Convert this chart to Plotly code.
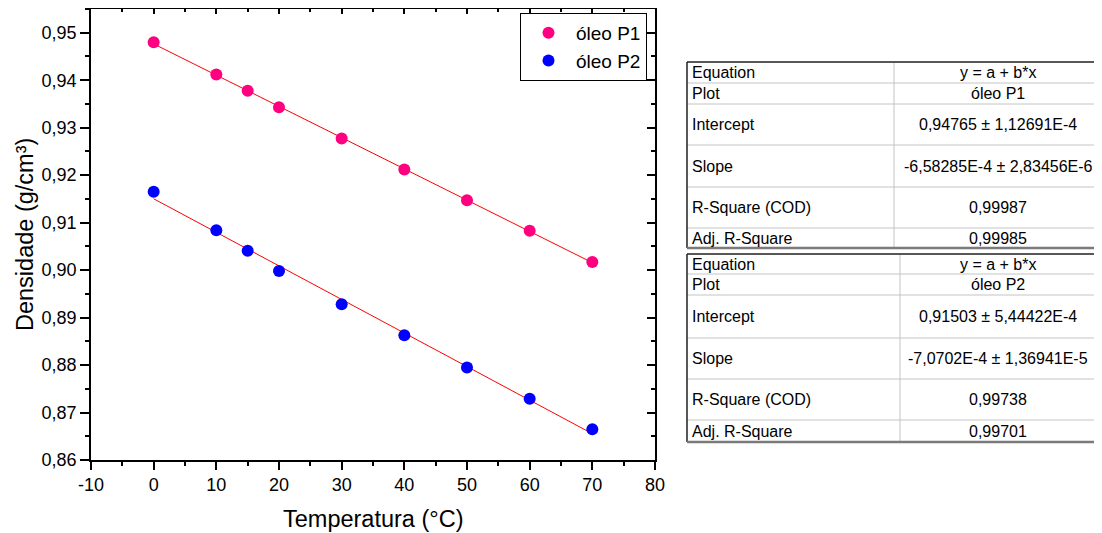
import plotly.graph_objects as go

# ---------------- data ----------------
temp_p1 = [0, 10, 15, 20, 30, 40, 50, 60, 70]
dens_p1 = [0.9480, 0.9412, 0.9378, 0.9343, 0.9277, 0.9212, 0.9147, 0.9083, 0.9017]
temp_p2 = [0, 10, 15, 20, 30, 40, 50, 60, 70]
dens_p2 = [0.9165, 0.9084, 0.9041, 0.8998, 0.8928, 0.8863, 0.8795, 0.8729, 0.8665]

p1_intercept = 0.94765
p1_slope = -6.58285e-4
p2_intercept = 0.91503
p2_slope = -7.0702e-4
fit_x = [0, 70]

x_tickvals = [-10, 0, 10, 20, 30, 40, 50, 60, 70, 80]
x_ticktext = ["-10", "0", "10", "20", "30", "40", "50", "60", "70", "80"]

table_labels = ["Equation", "Plot", "Intercept", "Slope", "R-Square (COD)", "Adj. R-Square"]
table_p1 = ["y = a + b*x", "óleo P1", "0,94765 ± 1,12691E-4", "-6,58285E-4 ± 2,83456E-6", "0,99987", "0,99985"]
table_p2 = ["y = a + b*x", "óleo P2", "0,91503 ± 5,44422E-4", "-7,0702E-4 ± 1,36941E-5", "0,99738", "0,99701"]

# ---------------- layout helpers ----------------
OFF = 8  # default page body margin
W, H = 1102 - OFF, 533 - OFF
FONT = "Liberation Sans, Arial, sans-serif"


def PX(px):
    return (px - OFF) / W


def PY(py):
    return 1 - (py - OFF) / H


PINK = "#FF0080"
BLUE = "#0000FF"

fig = go.Figure()

fit_p1 = [p1_intercept + p1_slope * x for x in fit_x]
fit_p2 = [p2_intercept + p2_slope * x for x in fit_x]

fig.add_trace(go.Scatter(x=fit_x, y=fit_p1, mode="lines", line=dict(color="#FF0000", width=1),
                         showlegend=False, hoverinfo="skip"))
fig.add_trace(go.Scatter(x=fit_x, y=fit_p2, mode="lines", line=dict(color="#FF0000", width=1),
                         showlegend=False, hoverinfo="skip"))
fig.add_trace(go.Scatter(x=temp_p1, y=dens_p1, mode="markers", name="óleo P1",
                         marker=dict(color=PINK, size=12, line=dict(width=0))))
fig.add_trace(go.Scatter(x=temp_p2, y=dens_p2, mode="markers", name="óleo P2",
                         marker=dict(color=BLUE, size=12, line=dict(width=0))))
# dummy trace for mirror axes
fig.add_trace(go.Scatter(x=[None], y=[None], xaxis="x2", yaxis="y2", showlegend=False, hoverinfo="skip"))

xr = [-10, 80]
yr = [0.86, 0.955]
xdom = [PX(91), PX(655)]
ydom = [PY(460), PY(9)]

axis_common = dict(showgrid=False, zeroline=False, showline=True, linecolor="black", linewidth=1.5,
                   tickcolor="black", tickwidth=1.5, automargin=False)

fig.update_layout(
    width=W, height=H,
    margin=dict(l=0, r=0, t=0, b=0, pad=0, autoexpand=False),
    paper_bgcolor="white", plot_bgcolor="white",
    separators=",.",
    font=dict(family=FONT, color="black"),
    xaxis=dict(domain=xdom, range=xr, anchor="y", ticks="outside", ticklen=8,
               tickvals=x_tickvals, ticktext=x_ticktext, tickfont=dict(size=18),
               minor=dict(ticks="outside", ticklen=4, dtick=5, tickcolor="black", tickwidth=1.5),
               **axis_common),
    yaxis=dict(domain=ydom, range=yr, anchor="x", ticks="outside", ticklen=9,
               tick0=0.86, dtick=0.01, tickformat=".2f", tickfont=dict(size=18),
               minor=dict(ticks="outside", ticklen=4, dtick=0.005, tickcolor="black", tickwidth=1.5),
               **axis_common),
    xaxis2=dict(domain=xdom, range=xr, anchor="y2", overlaying="x", side="top", ticks="inside",
                ticklen=5, dtick=10, tick0=0, showticklabels=False,
                minor=dict(ticks="inside", ticklen=3, dtick=5, tickcolor="black", tickwidth=1.5),
                **axis_common),
    yaxis2=dict(domain=ydom, range=yr, anchor="x2", overlaying="y", side="right", ticks="inside",
                ticklen=8, dtick=0.01, tick0=0.86, showticklabels=False,
                minor=dict(ticks="inside", ticklen=4, dtick=0.005, tickcolor="black", tickwidth=1.5),
                **axis_common),
    legend=dict(x=PX(647), y=PY(13), xanchor="right", yanchor="top",
                bgcolor="white", bordercolor="black", borderwidth=1,
                font=dict(size=19, family=FONT), tracegroupgap=0, itemwidth=45),
    showlegend=True,
)

annotations = [
    dict(text="Temperatura (°C)", x=PX(373), y=PY(519), xref="paper", yref="paper",
         showarrow=False, font=dict(size=23.5, family=FONT), xanchor="center", yanchor="middle"),
    dict(text="Densidade (g/cm³)", x=PX(25), y=PY(235), xref="paper", yref="paper",
         showarrow=False, font=dict(size=23.5, family=FONT), textangle=-90,
         xanchor="center", yanchor="middle"),
]
shapes = []


def add_table(rows_y, col_x, labels, values):
    left, right = 687, 1102
    for y in rows_y[1:-1]:
        shapes.append(dict(type="line", xref="paper", yref="paper", x0=PX(left), x1=PX(right),
                           y0=PY(y), y1=PY(y), line=dict(color="#c4c4c4", width=1)))
    shapes.append(dict(type="line", xref="paper", yref="paper", x0=PX(col_x), x1=PX(col_x),
                       y0=PY(rows_y[0]), y1=PY(rows_y[-1]), line=dict(color="#c4c4c4", width=1)))
    shapes.append(dict(type="line", xref="paper", yref="paper", x0=PX(left), x1=PX(right),
                       y0=PY(rows_y[0]), y1=PY(rows_y[0]), line=dict(color="#202020", width=1.5)))
    shapes.append(dict(type="line", xref="paper", yref="paper", x0=PX(left), x1=PX(left),
                       y0=PY(rows_y[0]), y1=PY(rows_y[-1]), line=dict(color="#202020", width=1.5)))
    shapes.append(dict(type="line", xref="paper", yref="paper", x0=PX(left), x1=PX(right),
                       y0=PY(rows_y[-1]), y1=PY(rows_y[-1]), line=dict(color="#7a7a7a", width=2.5)))
    for i, (lab, val) in enumerate(zip(labels, values)):
        yc = (rows_y[i] + rows_y[i + 1]) / 2
        annotations.append(dict(text=lab, x=PX(690), y=PY(yc), xref="paper", yref="paper",
                                showarrow=False, xanchor="left", yanchor="middle",
                                font=dict(size=16, family=FONT)))
        annotations.append(dict(text=val, x=PX(998), y=PY(yc), xref="paper", yref="paper",
                                showarrow=False, xanchor="center", yanchor="middle",
                                font=dict(size=16, family=FONT)))


add_table([62, 83, 104, 145, 187, 228, 248], 894, table_labels, table_p1)
add_table([254, 274, 295, 338, 379, 420, 442], 900, table_labels, table_p2)

fig.update_layout(annotations=annotations, shapes=shapes)

fig.write_html("out.html")
